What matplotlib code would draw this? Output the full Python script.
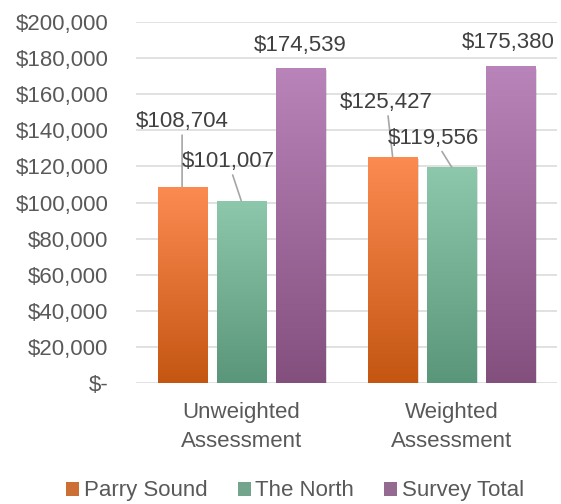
import matplotlib
matplotlib.use("Agg")
import matplotlib.pyplot as plt
import numpy as np
from matplotlib.colors import LinearSegmentedColormap
from matplotlib.ticker import FuncFormatter, MultipleLocator
from matplotlib.patches import Rectangle

# datos
categorias = ["Unweighted\nAssessment", "Weighted\nAssessment"]
series = ["Parry Sound", "The North", "Survey Total"]
parry_sound = [108704, 125427]
the_north = [101007, 119556]
survey_total = [174539, 175380]
valores = [parry_sound, the_north, survey_total]

# colores (arriba, abajo) del degradado
colores = [("#FC8B52", "#C45612"), ("#8EC8AC", "#5A9679"), ("#B984B9", "#83507E")]
# desplazamiento de las etiquetas (pixeles)
desp = [[(0, 65), (-6, 54)], [(-13, 39), (-18, 29)], [(0, 22), (-3, 24)]]

plt.rcParams["font.family"] = ["Liberation Sans", "DejaVu Sans"]
gris = "#595959"
tam = 16

fig = plt.figure(figsize=(5.61, 5.04), dpi=100)
ax = fig.add_axes([0.2424, 0.240, 0.7505, 0.7163])

x = np.arange(len(categorias))
ancho = 0.233
paso = 0.281

for i, s in enumerate(series):
    pos = x + (i - 1) * paso
    barras = ax.bar(pos, valores[i], ancho, color=colores[i][0], label=s, zorder=3)
    cmap = LinearSegmentedColormap.from_list("g%d" % i, [colores[i][1], colores[i][0]])
    for j, b in enumerate(barras):
        x0 = b.get_x()
        h = b.get_height()
        # sombra
        sombra = Rectangle((x0 + 0.008, -1200), ancho, h, facecolor="#000000",
                           alpha=0.12, edgecolor="none", zorder=2)
        ax.add_patch(sombra)
        b.set_facecolor("none")
        grad = np.linspace(0, 1, 256).reshape(-1, 1)
        im = ax.imshow(grad, extent=[x0, x0 + ancho, 0, h], origin="lower",
                       aspect="auto", cmap=cmap, zorder=3)
        im.set_clip_path(b)
        dx, dy = desp[i][j]
        props = None
        if i < 2:
            props = dict(arrowstyle="-", color="#A6A6A6", lw=1.2,
                         shrinkA=0, shrinkB=0)
        ax.annotate("${:,}".format(valores[i][j]), xy=(pos[j], h),
                    xytext=(dx, dy), textcoords="offset pixels",
                    ha="center", va="center", fontsize=tam, color="#404040",
                    arrowprops=props, zorder=5, annotation_clip=False)

ax.set_xlim(-0.5, 1.5)
ax.set_ylim(0, 200000)
ax.yaxis.set_major_locator(MultipleLocator(20000))
ax.yaxis.set_major_formatter(FuncFormatter(lambda v, p: "$-" if v == 0 else "${:,.0f}".format(v)))
ax.set_xticks(x)
ax.set_xticklabels(categorias, linespacing=1.45)
ax.tick_params(axis="y", length=0, pad=20, labelsize=tam, labelcolor=gris)
ax.tick_params(axis="x", length=0, pad=14, labelsize=tam, labelcolor=gris)
ax.grid(axis="y", color="#D9D9D9", lw=1.1, zorder=0)
ax.set_axisbelow(True)
for sp in ax.spines.values():
    sp.set_visible(False)

h, l = ax.get_legend_handles_labels()
leg = fig.legend(h, l, loc="center", bbox_to_anchor=(0.526, 0.026), ncol=3,
                 frameon=False, fontsize=tam, handlelength=0.6, handleheight=0.6,
                 handletextpad=0.2, columnspacing=1.35, labelcolor=gris)
for i, p in enumerate(leg.legend_handles):
    p.set_facecolor(colores[i][1])
    p.set_alpha(0.85)

fig.savefig("out.png", dpi=100)
